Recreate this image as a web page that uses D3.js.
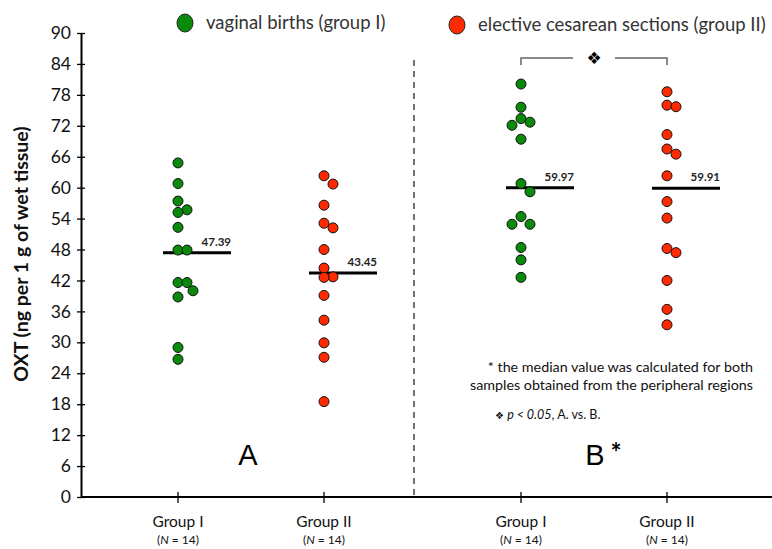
<!DOCTYPE html>
<html>
<head>
<meta charset="utf-8">
<script src="https://cdn.jsdelivr.net/npm/d3@7"></script>
<style>
  body { margin: 0; background: #fff; }
  svg { font-family: Lato, "Open Sans", sans-serif; }
</style>
</head>
<body>
<div id="chart"></div>
<script>
// values (ng OXT per 1 g wet tissue)
const panels = ["A", "B"];
const groups = ["Group I", "Group II"];
const groupN = [14, 14];
const yTicks = [0, 6, 12, 18, 24, 30, 36, 42, 48, 54, 60, 66, 72, 78, 84, 90];

const panelA_group1 = [64.8, 60.8, 57.4, 55.7, 55.2, 52.3, 47.9, 47.9, 41.6, 41.6, 40.0, 38.8, 29.0, 26.7];
const panelA_group2 = [62.3, 60.7, 56.6, 53.1, 52.2, 48.0, 44.4, 42.7, 42.6, 39.1, 34.3, 29.9, 27.1, 18.5];
const panelB_group1 = [80.1, 75.6, 73.4, 72.7, 72.1, 69.4, 60.8, 59.2, 54.4, 52.9, 52.9, 48.4, 46.0, 42.6];
const panelB_group2 = [78.6, 76.0, 75.7, 70.3, 67.5, 66.5, 62.3, 57.3, 54.1, 48.2, 47.4, 42.0, 36.4, 33.4];

const mediansA = [47.39, 43.45];
const mediansB = [59.97, 59.91];

const legendLabels = ["vaginal births (group I)", "elective cesarean sections (group II)"];
const colors = ["#0a8a0a", "#ff2a00"];

const series = [
  { panel: "A", group: "Group I", values: panelA_group1, median: mediansA[0] },
  { panel: "A", group: "Group II", values: panelA_group2, median: mediansA[1] },
  { panel: "B", group: "Group I", values: panelB_group1, median: mediansB[0] },
  { panel: "B", group: "Group II", values: panelB_group2, median: mediansB[1] }
];

const width = 772, height = 549;
const axisX = 81, axisY = 497, topY = 33;

const svg = d3.select("#chart").append("svg")
  .attr("width", width)
  .attr("height", height);

// scales
const y = d3.scaleLinear().domain([0, 90]).range([axisY, topY]);
const panelX = d3.scaleOrdinal().domain(panels).range([178, 521]);
const groupX = d3.scalePoint().domain(groups).range([0, 146]);
const xPos = (p, g) => panelX(p) + groupX(g);
const color = d3.scaleOrdinal().domain(groups).range(colors);

// y axis
const yAxis = svg.append("g")
  .attr("transform", "translate(" + axisX + ",0)")
  .call(d3.axisLeft(y).tickValues(yTicks).tickSize(4).tickSizeOuter(0).tickPadding(6));
yAxis.select(".domain").attr("stroke-width", 2);
yAxis.selectAll(".tick line").attr("x1", 4).attr("stroke-width", 1.3);
yAxis.selectAll(".tick text")
  .attr("font-size", 17.5)
  .attr("font-family", "Lato, sans-serif")
  .attr("fill", "#111");

// y axis title
svg.append("text")
  .attr("transform", "translate(23," + 254 + ") rotate(-90)")
  .attr("text-anchor", "middle")
  .attr("dominant-baseline", "middle")
  .attr("font-size", 19.5)
  .attr("font-weight", "bold")
  .attr("fill", "#111")
  .text("OXT (ng per 1 g of wet tissue)");

// x axis line
svg.append("line")
  .attr("x1", axisX).attr("x2", width)
  .attr("y1", axisY).attr("y2", axisY)
  .attr("stroke", "#000")
  .attr("stroke-width", 2);

// x ticks + labels
const xTicks = svg.selectAll(".xtick")
  .data(series)
  .enter().append("g")
  .attr("class", "xtick")
  .attr("transform", d => "translate(" + xPos(d.panel, d.group) + "," + axisY + ")");

xTicks.append("line")
  .attr("y1", -5).attr("y2", 6)
  .attr("stroke", "#000")
  .attr("stroke-width", 1.3);

xTicks.append("text")
  .attr("y", 30)
  .attr("text-anchor", "middle")
  .attr("font-size", 15.5)
  .attr("fill", "#111")
  .text(d => d.group);

const nText = xTicks.append("text")
  .attr("y", 47)
  .attr("text-anchor", "middle")
  .attr("font-size", 12)
  .attr("fill", "#111");
nText.append("tspan").text("(");
nText.append("tspan").attr("font-style", "italic").text("N");
nText.append("tspan").text(d => " = " + groupN[groups.indexOf(d.group)] + ")");

// dashed divider between panels
svg.append("line")
  .attr("x1", 414).attr("x2", 414)
  .attr("y1", 60).attr("y2", axisY)
  .attr("stroke", "#444")
  .attr("stroke-width", 1.5)
  .attr("stroke-dasharray", "6,5");

// simple dodge so overlapping dots sit side by side
const r = 5;
const offsets = [0, 9, 15, -9, -15];
function dodge(values) {
  const placed = [];
  values.slice().sort((a, b) => b - a).forEach(v => {
    const py = y(v);
    let dx = 0;
    for (const o of offsets) {
      if (placed.every(p => Math.hypot(p.dx - o, p.py - py) >= 9)) { dx = o; break; }
    }
    placed.push({ v: v, py: py, dx: dx });
  });
  return placed;
}

series.forEach(s => {
  const cx = xPos(s.panel, s.group);

  // median line
  svg.append("line")
    .attr("x1", cx - 15).attr("x2", cx + 53)
    .attr("y1", y(s.median)).attr("y2", y(s.median))
    .attr("stroke", "#000")
    .attr("stroke-width", 3);

  svg.append("text")
    .attr("x", cx + 53)
    .attr("y", y(s.median) - 7)
    .attr("text-anchor", "end")
    .attr("font-size", 11.5)
    .attr("font-weight", "bold")
    .attr("fill", "#222")
    .text(s.median.toFixed(2));

  svg.append("g").selectAll("circle")
    .data(dodge(s.values))
    .enter().append("circle")
    .attr("cx", d => cx + d.dx)
    .attr("cy", d => d.py)
    .attr("r", r)
    .attr("fill", color(s.group))
    .attr("stroke", "#111")
    .attr("stroke-width", 1);
});

// panel letters
svg.append("text")
  .attr("x", 248).attr("y", 465)
  .attr("text-anchor", "middle")
  .attr("font-family", "Liberation Sans, Arial, sans-serif")
  .attr("font-size", 29)
  .text("A");
svg.append("text")
  .attr("x", 595).attr("y", 465)
  .attr("text-anchor", "middle")
  .attr("font-family", "Liberation Sans, Arial, sans-serif")
  .attr("font-size", 29)
  .text("B");
svg.append("text")
  .attr("x", 616).attr("y", 462)
  .attr("text-anchor", "middle")
  .attr("font-size", 26)
  .attr("font-weight", "bold")
  .text("*");

// legend
const legendPos = [[185, 23], [457, 25]];
legendLabels.forEach((lab, i) => {
  svg.append("ellipse")
    .attr("cx", legendPos[i][0]).attr("cy", legendPos[i][1])
    .attr("rx", 8).attr("ry", 9)
    .attr("fill", colors[i])
    .attr("stroke", "#222")
    .attr("stroke-width", 1);
  svg.append("text")
    .attr("x", legendPos[i][0] + 21).attr("y", legendPos[i][1] + 6)
    .attr("font-size", 18.5)
    .attr("fill", "#333")
    .text(lab);
});

// significance bracket between group I and group II of panel B
const bx1 = xPos("B", "Group I"), bx2 = xPos("B", "Group II");
const by = 58;
svg.append("path")
  .attr("d", "M" + bx1 + "," + (by + 7) + "V" + by + "H" + (bx1 + 52) +
             "M" + (bx2 - 52) + "," + by + "H" + bx2 + "V" + (by + 7))
  .attr("fill", "none")
  .attr("stroke", "#666")
  .attr("stroke-width", 1.5);
svg.append("text")
  .attr("x", (bx1 + bx2) / 2).attr("y", by + 6)
  .attr("text-anchor", "middle")
  .attr("font-family", "DejaVu Sans, sans-serif")
  .attr("font-size", 17)
  .text("\u2756");

// footnotes
svg.append("text")
  .attr("x", 753).attr("y", 372)
  .attr("text-anchor", "end")
  .attr("font-size", 14.3)
  .attr("fill", "#111")
  .text("* the median value was calculated for both");
svg.append("text")
  .attr("x", 753).attr("y", 390)
  .attr("text-anchor", "end")
  .attr("font-size", 14.3)
  .attr("fill", "#111")
  .text("samples obtained from the peripheral regions");

const note = svg.append("text")
  .attr("x", 495).attr("y", 419)
  .attr("font-size", 12.5)
  .attr("fill", "#111");
note.append("tspan").attr("font-family", "DejaVu Sans, sans-serif").attr("font-size", 10).text("\u2756 ");
note.append("tspan").attr("font-style", "italic").text("p < 0.05");
note.append("tspan").text(", A. vs. B.");
</script>
</body>
</html>
